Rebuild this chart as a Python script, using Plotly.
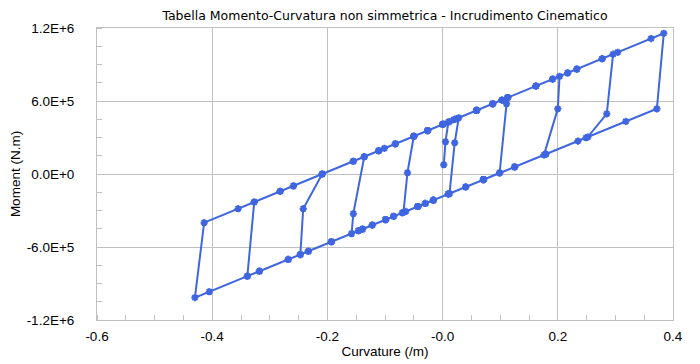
import plotly.graph_objects as go

# Curvature (/m) and Moment (kN.m -> scaled to N.m below), path order
curvature = [
    0.002, 0.005, 0.010, 0.019, 0.028,
    0.021, 0.012,
    -0.016, -0.030, -0.043, -0.068,
    -0.061, -0.050,
    -0.026, 0.000, 0.012, 0.024, 0.059, 0.087, 0.103, 0.113,
    0.111, 0.099,
    0.071, 0.040, 0.010, -0.016, -0.043, -0.070, -0.085, -0.099, -0.122, -0.139, -0.158,
    -0.155, -0.136,
    -0.111, -0.101, -0.082, -0.050, -0.026, 0.002, 0.024, 0.059, 0.087, 0.103, 0.162, 0.191, 0.203,
    0.200, 0.176,
    0.125, 0.099, 0.071, 0.040, 0.010, -0.030, -0.064, -0.099, -0.122, -0.146, -0.193, -0.233, -0.247,
    -0.242, -0.209,
    -0.155, -0.136, -0.111, -0.082, -0.050, -0.026, 0.000, 0.059, 0.087, 0.113, 0.162, 0.191, 0.217, 0.233, 0.277, 0.296,
    0.285, 0.252,
    0.235, 0.179, 0.125, 0.071, -0.016, -0.043, -0.085, -0.139, -0.193, -0.233, -0.268, -0.318, -0.339,
    -0.327,
    -0.282, -0.259, -0.209, -0.155, -0.111, -0.050, 0.000, 0.059, 0.113, 0.162, 0.217, 0.233, 0.277, 0.304, 0.362, 0.384,
    0.372,
    0.318, 0.249, 0.179, 0.125, 0.071, 0.010, -0.043, -0.099, -0.146, -0.193, -0.247, -0.268, -0.318, -0.339, -0.405, -0.430,
    -0.414,
    -0.355, -0.327, -0.282, -0.259, -0.209,
]
moment_k = [
    76, 265, 427, 446, 462,
    257, -161,
    -215, -242, -267, -315,
    11, 310,
    357, 408, 431, 454, 523, 577, 608, 628,
    577, 10,
    -46, -106, -164, -215, -267, -319, -348, -375, -420, -453, -490,
    -326, 142,
    191, 211, 248, 310, 357, 411, 454, 523, 577, 608, 723, 780, 803,
    536, 157,
    58, 8, -46, -106, -164, -242, -308, -375, -420, -466, -557, -635, -662,
    -285, 0,
    105, 142, 191, 248, 310, 357, 408, 523, 577, 628, 723, 780, 831, 862, 948, 985,
    495, 304,
    271, 163, 58, -46, -215, -267, -348, -453, -557, -635, -702, -799, -840,
    -230,
    -142, -98, 0, 105, 191, 310, 408, 523, 628, 723, 831, 862, 948, 1000, 1113, 1156,
    536,
    432, 298, 163, 58, -46, -164, -267, -375, -466, -557, -662, -702, -799, -840, -967, -1016,
    -400,
    -285, -230, -142, -98, 0,
]
moment = [v * 1000 for v in moment_k]

x_tickvals = [-0.6, -0.4, -0.2, 0.0, 0.2, 0.4]
x_ticktext = ["-0.6", "-0.4", "-0.2", "-0.0", "0.2", "0.4"]
y_tickvals = [-1.2e6, -6e5, 0, 6e5, 1.2e6]
y_ticktext = ["-1.2E+6", "-6.0E+5", "0.0E+0", "6.0E+5", "1.2E+6"]

blue = "#3F66E0"
grid = "#C0C0C0"
font_family = "Liberation Sans"

fig = go.Figure()
fig.add_trace(go.Scatter(
    x=curvature, y=moment, mode="lines+markers",
    line=dict(color=blue, width=2),
    marker=dict(symbol="asterisk-open", size=6, color=blue, line=dict(color=blue, width=2)),
    showlegend=False,
))

# page body has an 8px margin: figure is sized/offset so the plot area lands at x 97-673, y 28-320
fig.update_layout(
    width=692, height=356,
    margin=dict(l=89, r=27, t=20, b=44, autoexpand=False),
    paper_bgcolor="white", plot_bgcolor="white",
    font=dict(family=font_family, size=13, color="black"),
    title=dict(text="Tabella Momento-Curvatura non simmetrica - Incrudimento Cinematico",
               x=0.5, xref="paper", y=0.980, yref="container", xanchor="center", yanchor="middle",
               font=dict(family="DejaVu Sans", size=12.5, color="black")),
    xaxis=dict(
        range=[-0.6, 0.4], tickmode="array", tickvals=x_tickvals, ticktext=x_ticktext,
        showgrid=True, gridcolor=grid, gridwidth=1, zeroline=False, automargin=False,
        showline=True, linecolor=grid, linewidth=1, mirror=True,
        ticks="", tickfont=dict(size=13.5, color="black"), ticklabelstandoff=4,
        minor=dict(tickmode="linear", tick0=-0.6, dtick=0.05, ticks="inside", ticklen=5,
                   tickcolor=grid, showgrid=False),
        title=dict(text="Curvature (/m)", standoff=3, font=dict(size=13.5, color="black")),
    ),
    yaxis=dict(
        range=[-1.2e6, 1.2e6], tickmode="array", tickvals=y_tickvals, ticktext=y_ticktext,
        showgrid=True, gridcolor=grid, gridwidth=1, zeroline=False, automargin=False,
        showline=True, linecolor=grid, linewidth=1, mirror=True,
        ticks="", tickfont=dict(size=13.5, color="black"), ticklabelstandoff=19,
        minor=dict(tickmode="linear", tick0=-1.2e6, dtick=1.5e5, ticks="inside", ticklen=5,
                   tickcolor=grid, showgrid=False),
        title=dict(text="Moment (N.m)", standoff=6, font=dict(size=13.5, color="black")),
    ),
)

fig.write_html("out.html")
